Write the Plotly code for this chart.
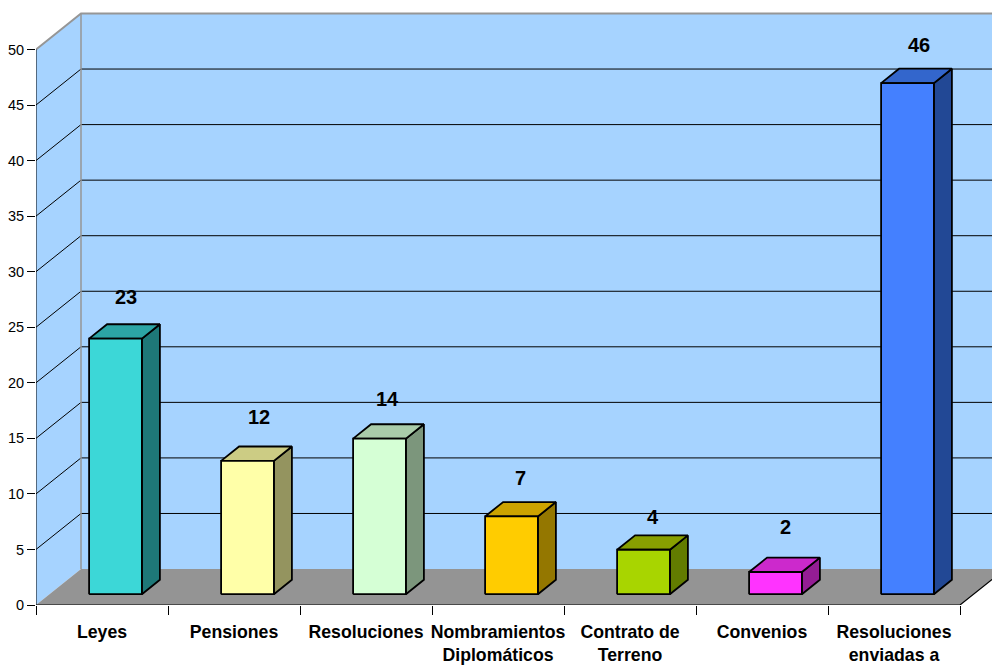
import plotly.graph_objects as go

categories = ["Leyes", "Pensiones", "Resoluciones", "Nombramientos<br>Diplomáticos",
              "Contrato de<br>Terreno", "Convenios", "Resoluciones<br>enviadas a"]
values = [23, 12, 14, 7, 4, 2, 46]
front_colors = ["#3CD7D7", "#FFFFA8", "#D5FFD5", "#FFCC00", "#A8D500", "#FF33FF", "#4480FF"]
top_colors = ["#2CA5A5", "#CCCC84", "#AACCAA", "#CCA300", "#889F00", "#CC29CC", "#3366CC"]
side_colors = ["#1E7878", "#94945F", "#7C967C", "#947700", "#627C00", "#941D94", "#224895"]
y_ticks = list(range(0, 55, 5))

# Layout constants: one category = 132 px, one value unit = 11.12 px
CAT_PX, VAL_PX = 132.0, 11.12
WIDTH, HEIGHT = 992, 665
ML, MB = 36, 59.5
DX = 45 / CAT_PX      # oblique depth of the floor in x units
DY = 36 / VAL_PX      # oblique depth of the floor in y units
BAR_W = 0.4
D0, D1 = 0.3, 0.7     # bar depth span
VMAX = 50
N = len(categories)
label_nudge_x = [10, 11, 8, 9, 9, 10, 11]    # px from front-face centre
label_nudge_y = [42, 44, 40, 38, 33, 45, 38]  # px above the front-face top

WALL, FLOOR, EDGE = "#A6D3FF", "#949494", "#969696"


def P(c, v, d=0.0):
    return c + d * DX, v + d * DY


def poly(points, fill, line="black", width=1.8):
    xs, ys = zip(*(points + points[:1]))
    return go.Scatter(x=xs, y=ys, mode="lines", fill="toself", fillcolor=fill,
                      line=dict(color=line, width=width), hoverinfo="skip",
                      showlegend=False, cliponaxis=True)


def seg(points, color="black", width=1.0):
    xs, ys = zip(*points)
    return go.Scatter(x=xs, y=ys, mode="lines", line=dict(color=color, width=width),
                      hoverinfo="skip", showlegend=False, cliponaxis=False)


fig = go.Figure()
# Walls and floor
fig.add_trace(poly([P(0, 0, 1), P(N, 0, 1), P(N, VMAX, 1), P(0, VMAX, 1)], WALL, WALL, 0))
fig.add_trace(poly([P(0, 0), P(0, 0, 1), P(0, VMAX, 1), P(0, VMAX)], WALL, WALL, 0))
fig.add_trace(poly([P(0, 0), P(N, 0), P(N, 0, 1), P(0, 0, 1)], FLOOR, FLOOR, 0))

# Gridlines
for t in y_ticks[1:-1]:
    fig.add_trace(seg([P(0, t), P(0, t, 1), P(N, t, 1)], "black", 1))
# Wall edges
fig.add_trace(seg([P(0, 0, 1), P(0, VMAX, 1)], EDGE, 1.5))
fig.add_trace(seg([P(0, VMAX), P(0, VMAX, 1), P(N, VMAX, 1)], EDGE, 2))
# Axis lines
fig.add_trace(seg([P(0, 0), P(0, VMAX)], "black", 1))
fig.add_trace(seg([P(0, 0), P(N, 0), P(N, 0, 1)], "black", 1.2))

# Bars
for i, v in enumerate(values):
    a = i + 0.5 - BAR_W / 2
    b = i + 0.5 + BAR_W / 2
    fig.add_trace(poly([P(b, 0, D0), P(b, 0, D1), P(b, v, D1), P(b, v, D0)], side_colors[i]))
    fig.add_trace(poly([P(a, v, D0), P(b, v, D0), P(b, v, D1), P(a, v, D1)], top_colors[i]))
    fig.add_trace(poly([P(a, 0, D0), P(b, 0, D0), P(b, v, D0), P(a, v, D0)], front_colors[i]))
    cx, ty = P(i + 0.5, v, D0)
    fig.add_annotation(x=cx + label_nudge_x[i] / CAT_PX, y=ty + label_nudge_y[i] / VAL_PX,
                       text=f"<b>{v}</b>", showarrow=False, xanchor="center", yanchor="middle",
                       font=dict(family="Liberation Sans", size=20, color="black"))

fig.update_layout(
    width=WIDTH, height=HEIGHT, autosize=False, showlegend=False,
    margin=dict(l=ML, r=0, t=0, b=MB, pad=0),
    paper_bgcolor="white", plot_bgcolor="white",
    font=dict(family="Liberation Sans", color="black"),
    xaxis=dict(range=[0, (WIDTH - ML) / CAT_PX], showgrid=False, zeroline=False, showline=False,
               tickmode="array", tickvals=[i + 0.5 for i in range(N)], ticktext=[f"<b>{c}</b>" for c in categories],
               ticks="", ticklen=0, tickangle=0, ticklabelstandoff=14, automargin=False,
               tickfont=dict(size=17.7, family="Liberation Sans", color="black"),
               minor=dict(tickmode="array", tickvals=list(range(N + 1)), ticks="outside", ticklen=9,
                          tickcolor="black", tickwidth=1, showgrid=False)),
    yaxis=dict(range=[0, (HEIGHT - MB) / VAL_PX], showgrid=False, zeroline=False, showline=False,
               tickmode="array", tickvals=y_ticks, ticks="outside", ticklen=8, tickwidth=1, automargin=False,
               tickcolor="black", tickfont=dict(size=14.5, family="Liberation Sans", color="black")),
)
fig.write_html("out.html", config={"displayModeBar": False},
               post_script="document.body.style.margin='0';")
